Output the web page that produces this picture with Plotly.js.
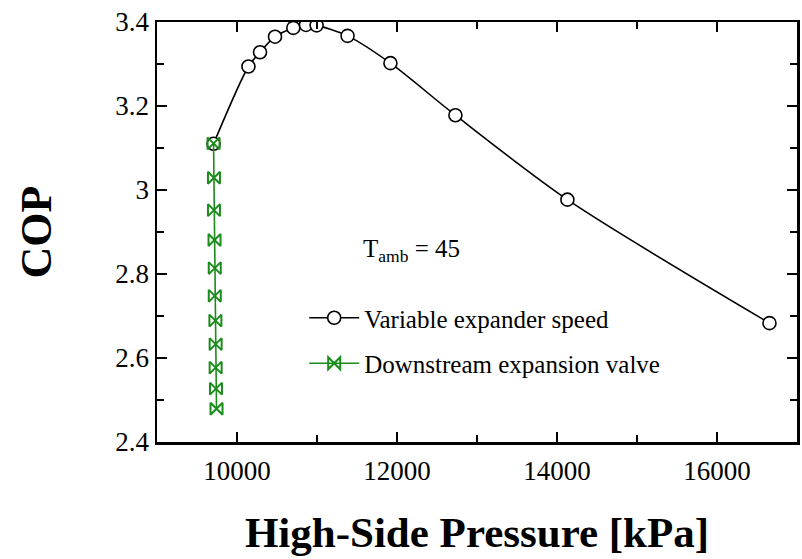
<!DOCTYPE html>
<html>
<head>
<meta charset="utf-8">
<script src="https://cdn.plot.ly/plotly-3.0.1.min.js"></script>
<style>html,body{margin:0;padding:0;background:#fff;}#chart{width:802px;height:559px;}</style>
</head>
<body>
<div id="chart"></div>
<script>
// Variable expander speed series
const expanderPressure = [9707, 10143, 10288, 10475, 10704, 10862, 10995, 11382, 11918, 12730, 14130, 16656];
const expanderCOP      = [3.110, 3.294, 3.328, 3.365, 3.386, 3.393, 3.392, 3.367, 3.302, 3.178, 2.977, 2.683];
// Downstream expansion valve series
const valvePressure = [9707, 9712, 9712, 9719, 9722, 9722, 9730, 9733, 9733, 9737, 9744];
const valveCOP      = [3.111, 3.029, 2.952, 2.881, 2.814, 2.748, 2.689, 2.633, 2.577, 2.527, 2.479];
const seriesNames = ["Variable expander speed", "Downstream expansion valve"];
const xTickVals = [10000, 12000, 14000, 16000];
const yTickVals = [2.4, 2.6, 2.8, 3.0, 3.2, 3.4];
const yTickText = ["2.4", "2.6", "2.8", "3", "3.2", "3.4"];

const serif = "'Liberation Serif', 'Times New Roman', serif";

const traces = [
  {
    x: expanderPressure, y: expanderCOP, name: seriesNames[0],
    type: "scatter", mode: "lines+markers", legendgroup: "a",
    line: {color: "#000000", width: 1.6, shape: "spline", smoothing: 0.8},
    marker: {symbol: "circle", size: 13, color: "#ffffff", line: {color: "#000000", width: 1.6}}
  },
  {
    x: valvePressure, y: valveCOP, name: seriesNames[1],
    type: "scatter", mode: "lines+markers", legendgroup: "b",
    line: {color: "#1a8c1a", width: 1.6},
    marker: {symbol: "bowtie-open", size: 12, color: "#1a8c1a", line: {color: "#1a8c1a", width: 2}}
  }
];

const layout = {
  width: 802, height: 559,
  margin: {l: 157, r: 5, t: 22, b: 117},
  paper_bgcolor: "#ffffff", plot_bgcolor: "#ffffff",
  font: {family: serif, color: "#000000", size: 27},
  showlegend: true,
  legend: {
    x: 0.23, y: 0.35, xanchor: "left", yanchor: "top",
    bgcolor: "rgba(0,0,0,0)", font: {family: serif, size: 25, color: "#000"},
    tracegroupgap: 10, itemwidth: 50
  },
  xaxis: {
    range: [9000, 17000], tickvals: xTickVals, ticktext: xTickVals.map(String),
    ticks: "inside", ticklen: 10, tickwidth: 1.5, tickcolor: "#000",
    showline: true, linecolor: "#000", linewidth: 2.5, mirror: "allticks",
    showgrid: false, zeroline: false, ticklabelstandoff: 3,
    tickfont: {family: serif, size: 27, color: "#000"},
    minor: {dtick: 1000, tick0: 9000, ticks: "inside", ticklen: 7, tickwidth: 1.5, tickcolor: "#000", showgrid: false},
    title: {text: "<b>High-Side Pressure [kPa]</b>", font: {family: serif, size: 43, color: "#000"}, standoff: 32}
  },
  yaxis: {
    range: [2.4, 3.4], tickvals: yTickVals, ticktext: yTickText,
    ticks: "inside", ticklen: 10, tickwidth: 1.5, tickcolor: "#000",
    showline: true, linecolor: "#000", linewidth: 2.5, mirror: "allticks",
    showgrid: false, zeroline: false,
    tickfont: {family: serif, size: 27, color: "#000"},
    minor: {dtick: 0.1, tick0: 2.4, ticks: "inside", ticklen: 7, tickwidth: 1.5, tickcolor: "#000", showgrid: false},
    title: {text: "<b>COP</b>", font: {family: serif, size: 44, color: "#000"}, standoff: 50}
  },
  annotations: [
    {
      xref: "paper", yref: "paper", x: 0.318, y: 0.455, xanchor: "left", yanchor: "middle",
      text: "T<sub>amb</sub> = 45", showarrow: false,
      font: {family: serif, size: 25, color: "#000"}
    }
  ]
};

Plotly.newPlot("chart", traces, layout, {displayModeBar: false, staticPlot: true});
</script>
</body>
</html>
